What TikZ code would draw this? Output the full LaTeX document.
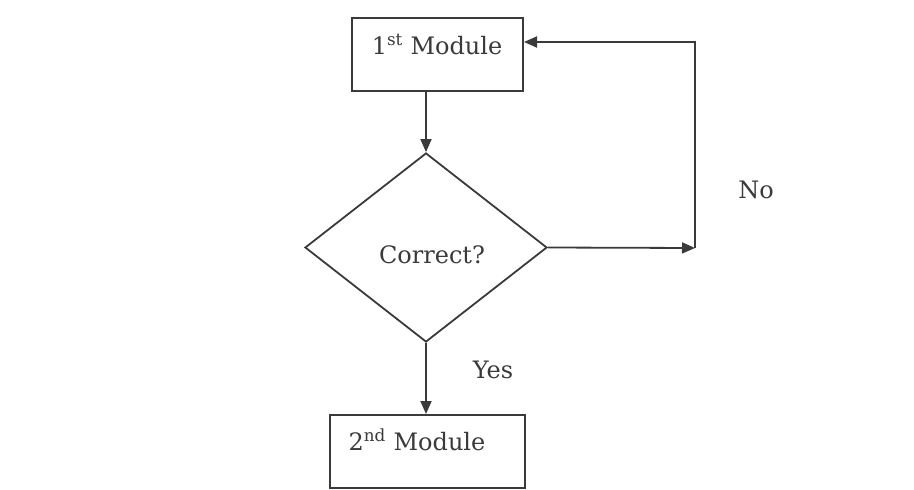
\documentclass[tikz,border=0pt]{standalone}
\usepackage{fontspec}
\setmainfont{DejaVu Serif}
\usetikzlibrary{shapes.geometric,arrows.meta}
\definecolor{ink}{HTML}{3A3A3A}
\tikzset{
  boxnode/.style={draw=ink, line width=2pt, rectangle, inner sep=0pt},
  dia/.style={draw=ink, line width=1.8pt, diamond, inner sep=0pt, minimum width=242pt, minimum height=189pt},
  txt/.style={text=ink, font=\fontsize{24}{28}\selectfont, inner sep=0pt},
  arr/.style={draw=ink, line width=1.8pt, -{Triangle[length=13pt,width=11pt]}},
  ln/.style={draw=ink, line width=1.8pt}
}
\begin{document}
\begin{tikzpicture}[x=1pt,y=-1pt]
\useasboundingbox (0,0) rectangle (914,490);
\node[boxnode, minimum width=171pt, minimum height=73pt] (m1) at (437.5,54.5) {};
\node[txt] (t1) at (437,44) {1\textsuperscript{st} Module};
\node[dia] (d) at (426,247.5) {};
\node[txt] (tc) at (432,255) {Correct?};
\node[boxnode, minimum width=195pt, minimum height=73pt] (m2) at (427.5,451.5) {};
\node[txt] (t2) at (417,440) {2\textsuperscript{nd} Module};
\coordinate (c1) at (695,248);
\coordinate (c2) at (695,42);
\draw[arr] (m1.south -| d.north) -- (d.north);
\draw[arr] (d.east) -- (c1);
\draw[arr] (c1) -- (c2) -- (m1.east |- c2);
\draw[arr] (d.south) -- (m2.north -| d.south);
\node[txt] (no) at (756,190) {No};
\node[txt] (yes) at (493,370) {Yes};
\end{tikzpicture}
\end{document}
